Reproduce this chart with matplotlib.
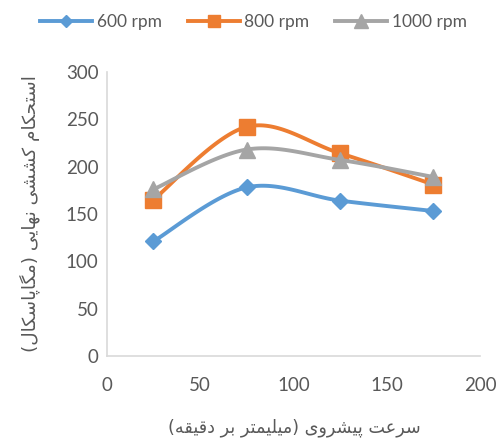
import numpy as np
import matplotlib
matplotlib.use("Agg")
import matplotlib.pyplot as plt

feed_rate = [25, 75, 125, 175]
series_names = ["600 rpm", "800 rpm", "1000 rpm"]
strength_600 = [121, 178, 164, 153]
strength_800 = [165, 242, 214, 181]
strength_1000 = [176, 218, 207, 189]

x_label = "سرعت پیشروی (میلیمتر بر دقیقه)"
y_label = "استحکام کششی نهایی (مگاپاسکال)"

colors = ["#5B9BD5", "#ED7D31", "#A5A5A5"]
markers = ["D", "s", "^"]
marker_sizes = [8, 11, 12]
text_color = "#595959"

# presentation forms: isolated, final, initial, medial
FORMS = {
    "ا": ("\uFE8D", "\uFE8E", None, None),
    "د": ("\uFEA9", "\uFEAA", None, None),
    "ر": ("\uFEAD", "\uFEAE", None, None),
    "و": ("\uFEED", "\uFEEE", None, None),
    "ب": ("\uFE8F", "\uFE90", "\uFE91", "\uFE92"),
    "پ": ("\uFB56", "\uFB57", "\uFB58", "\uFB59"),
    "ت": ("\uFE95", "\uFE96", "\uFE97", "\uFE98"),
    "ح": ("\uFEA1", "\uFEA2", "\uFEA3", "\uFEA4"),
    "س": ("\uFEB1", "\uFEB2", "\uFEB3", "\uFEB4"),
    "ش": ("\uFEB5", "\uFEB6", "\uFEB7", "\uFEB8"),
    "ع": ("\uFEC9", "\uFECA", "\uFECB", "\uFECC"),
    "ق": ("\uFED5", "\uFED6", "\uFED7", "\uFED8"),
    "ک": ("\uFB8E", "\uFB8F", "\uFB90", "\uFB91"),
    "گ": ("\uFB92", "\uFB93", "\uFB94", "\uFB95"),
    "ل": ("\uFEDD", "\uFEDE", "\uFEDF", "\uFEE0"),
    "م": ("\uFEE1", "\uFEE2", "\uFEE3", "\uFEE4"),
    "ن": ("\uFEE5", "\uFEE6", "\uFEE7", "\uFEE8"),
    "ه": ("\uFEE9", "\uFEEA", "\uFEEB", "\uFEEC"),
    "ی": ("\uFBFC", "\uFBFD", "\uFBFE", "\uFBFF"),
}


def shape_rtl(text):
    out = []
    for i, ch in enumerate(text):
        if ch not in FORMS:
            out.append(ch)
            continue
        prev = text[i - 1] if i > 0 else ""
        nxt = text[i + 1] if i + 1 < len(text) else ""
        forms = FORMS[ch]
        joins_prev = prev in FORMS and FORMS[prev][2] is not None
        joins_next = forms[2] is not None and nxt in FORMS
        if joins_prev and joins_next:
            out.append(forms[3])
        elif joins_prev:
            out.append(forms[1])
        elif joins_next:
            out.append(forms[2])
        else:
            out.append(forms[0])
    visual = "".join(reversed(out))
    return visual.translate(str.maketrans("()", ")("))


def smooth(x, y, n=40):
    # bezier curve through the points, like a spreadsheet smoothed line
    pts = np.column_stack([x, y]).astype(float)
    ext = np.vstack([pts[0], pts, pts[-1]])
    t = np.linspace(0, 1, n)[:, None]
    segs = []
    for i in range(len(pts) - 1):
        p0, p1, p2, p3 = ext[i], ext[i + 1], ext[i + 2], ext[i + 3]
        c1 = p1 + (p2 - p0) / 6
        c2 = p2 - (p3 - p1) / 6
        seg = ((1 - t) ** 3) * p1 + 3 * ((1 - t) ** 2) * t * c1 \
            + 3 * (1 - t) * t ** 2 * c2 + t ** 3 * p2
        segs.append(seg)
    curve = np.vstack(segs)
    return curve[:, 0], curve[:, 1]


plt.rcParams["font.family"] = ["Lato", "DejaVu Sans"]

fig = plt.figure(figsize=(4.99, 4.41), dpi=100)
ax = fig.add_axes([0.214, 0.193, 0.748, 0.644])

all_series = [strength_600, strength_800, strength_1000]
for vals, name, c, m, ms in zip(all_series, series_names, colors, markers, marker_sizes):
    sx, sy = smooth(feed_rate, vals)
    ax.plot(sx, sy, color=c, lw=2.8, solid_capstyle="round")
    ax.plot(feed_rate, vals, linestyle="none", marker=m, ms=ms, color=c)
    ax.plot([], [], color=c, lw=2.8, marker=m, ms=ms * 0.8, label=name)

ax.set_xlim(0, 200)
ax.set_ylim(0, 300)
ax.set_xticks([0, 50, 100, 150, 200])
ax.set_yticks([0, 50, 100, 150, 200, 250, 300])
ax.tick_params(length=0, labelsize=13.5, labelcolor=text_color)
ax.tick_params(axis="y", pad=6)
ax.tick_params(axis="x", pad=15)
for side in ["top", "right"]:
    ax.spines[side].set_visible(False)
for side in ["left", "bottom"]:
    ax.spines[side].set_color("#D9D9D9")
    ax.spines[side].set_linewidth(1.2)

fig.text(0.589, 0.03, shape_rtl(x_label), ha="center", va="center",
         fontsize=12.7, color=text_color, family="DejaVu Sans")
fig.text(0.06, 0.515, shape_rtl(y_label), ha="center", va="center",
         rotation=90, fontsize=13.3, color=text_color, family="DejaVu Sans")

fig.legend(loc="center", bbox_to_anchor=(0.508, 0.95), ncol=3, frameon=False,
           fontsize=12.5, handlelength=3.0, handletextpad=0.25,
           columnspacing=1.5, labelcolor=text_color)

fig.savefig("out.png", dpi=100)
